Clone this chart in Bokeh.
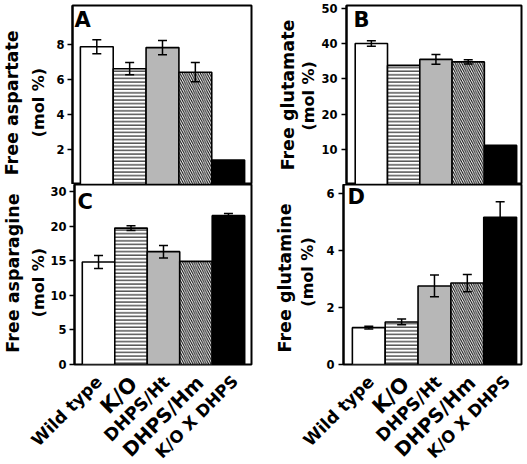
from math import pi
from bokeh.plotting import figure
from bokeh.layouts import column, row
from bokeh.models import ColumnDataSource, Whisker, TeeHead, Label, FixedTicker
from bokeh.core.properties import value, field
from bokeh.embed import file_html
from bokeh.resources import INLINE

# ---------------- data ----------------
categories = ["Wild type", "K/O", "DHPS/Ht", "DHPS/Hm", "K/O X DHPS"]

aspartate = [7.85, 6.6, 7.8, 6.4, 1.4]
aspartate_err = [0.4, 0.35, 0.4, 0.55, None]

glutamate = [40.0, 33.8, 35.5, 34.8, 11.1]
glutamate_err = [0.8, None, 1.4, 0.6, None]

asparagine = [14.8, 19.7, 16.3, 14.9, 21.5]
asparagine_err = [0.95, 0.35, 0.9, None, 0.3]

glutamine = [1.29, 1.49, 2.75, 2.85, 5.15]
glutamine_err = [0.05, 0.1, 0.38, 0.3, 0.55]

ticks_A = [2, 4, 6, 8]
ticks_B = [10, 20, 30, 40, 50]
ticks_C = [0, 5, 10, 15, 20, 25]
tick_overrides_C = {25: "30"}
ticks_D = [0, 2, 4, 6]

unit_label = "(mol  %)"

# ---------------- style / layout ----------------
FONT = "DejaVu Sans"
fills = ["white", "white", "#b7b7b7", "white", "black"]
hatches = ["blank", "horizontal_line", "blank", "left_diagonal_line", "blank"]
hatch_scales = [4, 3.6, 4, 4.5, 4]
xlabel_sizes = ["17px", "21px", "17.5px", "19.5px", "16.5px"]
xlabel_dx = [2, 4, 4, 5, 7]          # px right of bar centre
xlabel_drop = [14, 16, 14.5, 15, 14]  # px below the axis

# column geometry (pixels): title strip, axis border, frame, right border
L_TITLE, L_AXIS, L_FRAME, L_RIGHT = 47, 25, 179, 2
R_TITLE, R_AXIS, R_FRAME, R_RIGHT = 65, 25, 178, 3
TOP_BORDER, TOP_FRAME = 5, 179
MID_FRAME, MID_BOTTOM = 180, 7
LABEL_ROW = 92
XR_LEFT = (0.26, 5.71)
XR_RIGHT = (0.23, 5.65)


def make_panel(vals, errs, letter, ticks, yend, left_col, top_row,
               overrides=None, tick_stand=3, let_dx=3, let_dy=-2):
    x0, x1 = XR_LEFT if left_col else XR_RIGHT
    lb, fw, rb = (L_AXIS, L_FRAME, L_RIGHT) if left_col else (R_AXIS, R_FRAME, R_RIGHT)
    p = figure(
        width=lb + fw + rb,
        height=(TOP_BORDER + TOP_FRAME) if top_row else (MID_FRAME + MID_BOTTOM),
        x_range=(x0, x1), y_range=(0, yend),
        x_axis_location=None, title=None,
        output_backend="svg", toolbar_location=None, tools="",
        min_border_left=lb, min_border_right=rb,
        min_border_top=TOP_BORDER if top_row else 0,
        min_border_bottom=0 if top_row else MID_BOTTOM,
    )
    p.grid.visible = False
    p.outline_line_color = "black"
    p.outline_line_width = 2
    p.background_fill_color = "white"
    p.border_fill_color = "white"

    ax = p.yaxis[0]
    ax.ticker = FixedTicker(ticks=ticks)
    if overrides:
        ax.major_label_overrides = overrides
    ax.major_label_text_font = FONT
    ax.major_label_text_font_style = "bold"
    ax.major_label_text_font_size = "11.5px"
    ax.major_label_text_color = "black"
    ax.major_tick_in = 0
    ax.major_tick_out = 5
    ax.minor_tick_in = 0
    ax.minor_tick_out = 0
    ax.major_tick_line_width = 1.5
    ax.major_tick_line_color = "black"
    ax.axis_line_width = 2
    ax.axis_line_color = "black"
    ax.major_label_standoff = tick_stand

    src = ColumnDataSource(dict(x=list(range(1, 6)), top=vals, fill=fills,
                                hatch=hatches, hs=hatch_scales))
    p.vbar(x="x", top="top", width=1.0, bottom=0, source=src,
           fill_color="fill", line_color="black", line_width=1.6,
           hatch_pattern="hatch", hatch_color="black", hatch_scale="hs", hatch_weight=1)

    ex, up, lo = [], [], []
    for i, (v, e) in enumerate(zip(vals, errs)):
        if e is not None:
            ex.append(i + 1)
            up.append(v + e)
            lo.append(v - e)
    wsrc = ColumnDataSource(dict(x=ex, upper=up, lower=lo))
    w = Whisker(base="x", upper="upper", lower="lower", source=wsrc, dimension="height",
                line_color="black", line_width=1.5, level="overlay",
                upper_head=TeeHead(size=9, line_width=1.5, line_color="black"),
                lower_head=TeeHead(size=9, line_width=1.5, line_color="black"))
    p.add_layout(w)

    p.add_layout(Label(x=x0, y=yend, x_offset=let_dx, y_offset=let_dy, text=letter,
                       text_font=FONT, text_font_style="bold", text_font_size="21px",
                       text_baseline="top", text_align="left", text_color="black"))
    return p


def make_title_strip(title1, left_col, top_row, pos1, pos2):
    """Vertical two-line axis title; pos = (centre x, centre y) in strip pixels."""
    w = L_TITLE if left_col else R_TITLE
    h = (TOP_BORDER + TOP_FRAME) if top_row else (MID_FRAME + MID_BOTTOM)
    q = figure(width=w, height=h, x_range=(0, w), y_range=(-h, 0),
               x_axis_location=None, y_axis_location=None, title=None,
               output_backend="svg", toolbar_location=None, tools="", min_border=0)
    q.grid.visible = False
    q.outline_line_color = None
    q.background_fill_color = "white"
    q.border_fill_color = "white"
    src = ColumnDataSource(dict(x=[pos1[0], pos2[0]], y=[-pos1[1], -pos2[1]],
                                text=[title1, unit_label], fs=["17.5px", "16px"]))
    q.text(x="x", y="y", text="text", source=src, angle=pi / 2,
           text_align="center", text_baseline="middle", text_font=value(FONT),
           text_font_style="bold", text_font_size=field("fs"), text_color="black")
    return q


def make_label_row(left_col):
    x0, x1 = XR_LEFT if left_col else XR_RIGHT
    if left_col:
        lb, fw, rb = L_TITLE + L_AXIS, L_FRAME, L_RIGHT
    else:
        lb, fw, rb = R_TITLE + R_AXIS, R_FRAME, R_RIGHT
    u = fw / (x1 - x0)
    q = figure(width=lb + fw + rb, height=LABEL_ROW,
               x_range=(x0 - lb / u, x1 + rb / u), y_range=(-LABEL_ROW, 0),
               x_axis_location=None, y_axis_location=None, title=None,
               output_backend="svg", toolbar_location=None, tools="", min_border=0)
    q.grid.visible = False
    q.outline_line_color = None
    q.background_fill_color = "white"
    q.border_fill_color = "white"
    src = ColumnDataSource(dict(x=list(range(1, 6)),
                                y=[-(d - MID_BOTTOM) for d in xlabel_drop],
                                dx=xlabel_dx, text=categories, fs=xlabel_sizes))
    q.text(x="x", y="y", text="text", source=src, x_offset=field("dx"), angle=pi / 4,
           text_align="right", text_baseline="middle", text_font=value(FONT),
           text_font_style="bold", text_font_size=field("fs"), text_color="black")
    return q


pA = make_panel(aspartate, aspartate_err, "A", ticks_A, 10.2, True, True,
                tick_stand=3, let_dx=2, let_dy=-2)
pB = make_panel(glutamate, glutamate_err, "B", ticks_B, 50.8, False, True,
                tick_stand=4, let_dx=7, let_dy=-2)
pC = make_panel(asparagine, asparagine_err, "C", ticks_C, 26.0, True, False,
                overrides=tick_overrides_C, tick_stand=3, let_dx=3, let_dy=-5)
pD = make_panel(glutamine, glutamine_err, "D", ticks_D, 6.3, False, False,
                tick_stand=4, let_dx=4, let_dy=0)

tA = make_title_strip("Free aspartate", True, True, (11, 100), (37.5, 97))
tB = make_title_strip("Free glutamate", False, True, (34, 92), (54.5, 90))
tC = make_title_strip("Free asparagine", True, False, (12, 92), (37.7, 99))
tD = make_title_strip("Free glutamine", False, False, (31, 97), (53.5, 88))

lC = make_label_row(True)
lD = make_label_row(False)

layout = column(row(tA, pA, tB, pB, spacing=0),
                row(tC, pC, tD, pD, spacing=0),
                row(lC, lD, spacing=0), spacing=0)

open("out.html", "w").write(file_html(layout, INLINE))
